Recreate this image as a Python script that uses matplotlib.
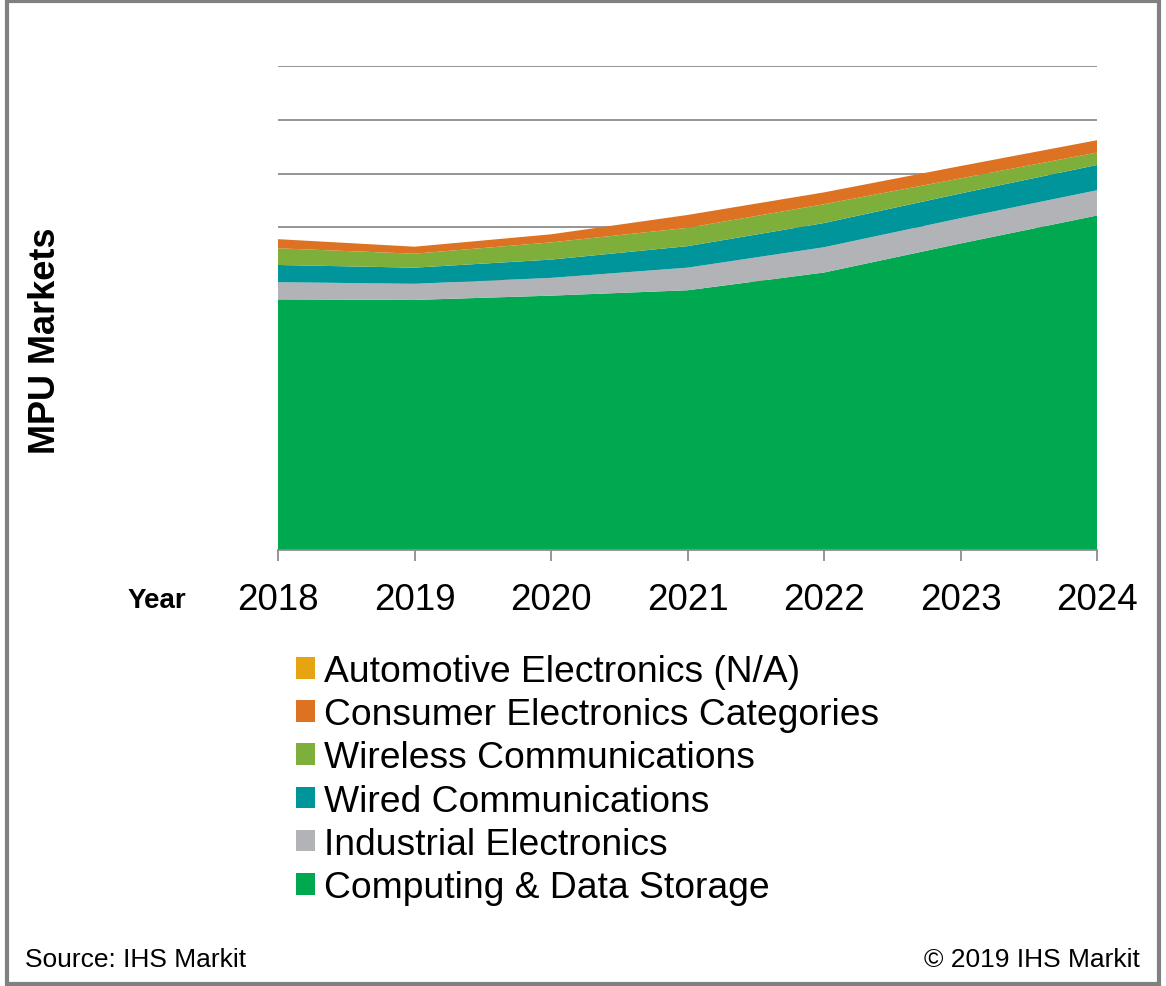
import matplotlib
matplotlib.use("Agg")
from matplotlib import pyplot as plt
from matplotlib.patches import Rectangle

plt.rcParams["font.family"] = ["Liberation Sans", "DejaVu Sans"]

years = [2018, 2019, 2020, 2021, 2022, 2023, 2024]

# stacked layers, bottom to top
computing = [4.66, 4.65, 4.73, 4.83, 5.16, 5.70, 6.22]
industrial = [0.32, 0.30, 0.33, 0.42, 0.47, 0.47, 0.47]
wired = [0.32, 0.30, 0.34, 0.40, 0.45, 0.46, 0.47]
wireless = [0.31, 0.26, 0.32, 0.34, 0.35, 0.28, 0.23]
consumer = [0.17, 0.13, 0.15, 0.24, 0.22, 0.23, 0.23]
automotive = [0, 0, 0, 0, 0, 0, 0]

labels = [
    "Computing & Data Storage",
    "Industrial Electronics",
    "Wired Communications",
    "Wireless Communications",
    "Consumer Electronics Categories",
    "Automotive Electronics (N/A)",
]
colors = ["#00A94F", "#B1B3B6", "#00959A", "#7DAF3A", "#DC7222", "#E6A312"]

fig = plt.figure(figsize=(11.66, 9.87), dpi=100)
ax = fig.add_axes([278 / 1166, 1 - 551 / 987, (1097 - 278) / 1166, (551 - 67) / 987])

polys = ax.stackplot(
    years,
    computing, industrial, wired, wireless, consumer, automotive,
    labels=labels, colors=colors, linewidth=0,
)

ax.set_xlim(2018, 2024)
ax.set_ylim(0, 9)
ax.set_xticks(years)
ax.set_yticks(range(10))
ax.set_axisbelow(True)
ax.yaxis.grid(True, color="#8C8C8C", linewidth=1.3)
ax.tick_params(axis="y", left=False, labelleft=False)
ax.tick_params(axis="x", length=8, width=1.3, color="#8C8C8C",
               labelsize=26.5, pad=15)
for side in ["top", "left", "right"]:
    ax.spines[side].set_visible(False)
ax.spines["bottom"].set_color("#8C8C8C")
ax.spines["bottom"].set_linewidth(1.3)

fig.text(128 / 1166, 1 - 601 / 987, "Year", fontsize=20, fontweight="bold",
         ha="left", va="center")
fig.text(46 / 1166, 1 - 341 / 987, "MPU Markets", fontsize=26, fontweight="bold",
         rotation=90, ha="center", va="center")

handles, labs = ax.get_legend_handles_labels()
fig.legend(
    handles[::-1], labs[::-1],
    loc="upper left", bbox_to_anchor=(296 / 1166, 1 - 655 / 987),
    frameon=False, fontsize=26.8, handlelength=0.52, handleheight=0.52,
    handletextpad=0.23, labelspacing=0.22, borderpad=0, borderaxespad=0,
)

fig.text(25 / 1166, 1 - 960 / 987, "Source: IHS Markit", fontsize=19,
         ha="left", va="center")
fig.text(1140 / 1166, 1 - 960 / 987, "\u00a9 2019 IHS Markit", fontsize=19,
         ha="right", va="center")

# outer frame
fig.patches.append(Rectangle((7 / 1166, 2 / 987), 1152 / 1166, 983 / 987,
                             transform=fig.transFigure, fill=False,
                             edgecolor="#808080", linewidth=3))

fig.savefig("out.png", dpi=100)
